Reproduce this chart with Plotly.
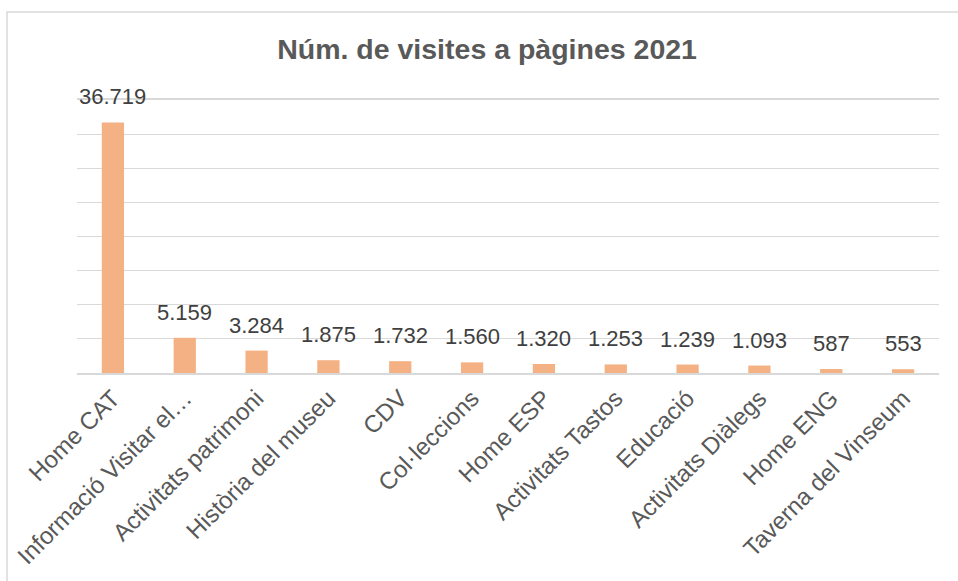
import plotly.graph_objects as go

categories = ["Home CAT", "Informació Visitar el…", "Activitats patrimoni", "Història del museu",
              "CDV", "Col·leccions", "Home ESP", "Activitats Tastos", "Educació",
              "Activitats Diàlegs", "Home ENG", "Taverna del Vinseum"]
visits = [36719, 5159, 3284, 1875, 1732, 1560, 1320, 1253, 1239, 1093, 587, 553]
value_labels = ["36.719", "5.159", "3.284", "1.875", "1.732", "1.560", "1.320", "1.253",
                "1.239", "1.093", "587", "553"]
title_text = "Núm. de visites a pàgines 2021"

FONT = "Liberation Sans, Arial, sans-serif"

fig = go.Figure()
fig.add_trace(go.Bar(
    x=categories, y=visits,
    marker=dict(color="#F4B183", line=dict(width=0)),
    width=0.31,
    hoverinfo="x+y",
))

for c, v, t in zip(categories, visits, value_labels):
    fig.add_annotation(x=c, y=v, text=t, showarrow=False, yanchor="bottom",
                       yshift=11, font=dict(family=FONT, size=22, color="#404040"))

fig.add_shape(type="rect", xref="paper", yref="paper",
              x0=-0.0812, x1=1.03, y0=-0.78, y1=1.3223,
              line=dict(color="#D9D9D9", width=1.5), fillcolor="rgba(0,0,0,0)", layer="below")

fig.update_layout(
    width=958, height=581,
    margin=dict(l=77, r=19, t=100, b=208, autoexpand=False),
    paper_bgcolor="white", plot_bgcolor="white",
    title=dict(text="<b>" + title_text + "</b>", x=0.5084, xanchor="center", y=0.916, yanchor="middle",
               font=dict(family=FONT, size=28.5, color="#595959")),
    showlegend=False,
    bargap=0.69,
    xaxis=dict(tickangle=-45, tickfont=dict(family=FONT, size=24, color="#595959"),
               showline=True, mirror=True, linecolor="#D9D9D9", linewidth=1.5, ticks="",
               automargin=False, showgrid=False),
    yaxis=dict(range=[0, 40000], dtick=5000, showticklabels=False, showgrid=True,
               gridcolor="#D9D9D9", gridwidth=1, zeroline=False, showline=False,
               automargin=False, fixedrange=True),
)

fig.write_html("out.html", config={"displayModeBar": False},
               post_script="document.body.style.margin='0';")
